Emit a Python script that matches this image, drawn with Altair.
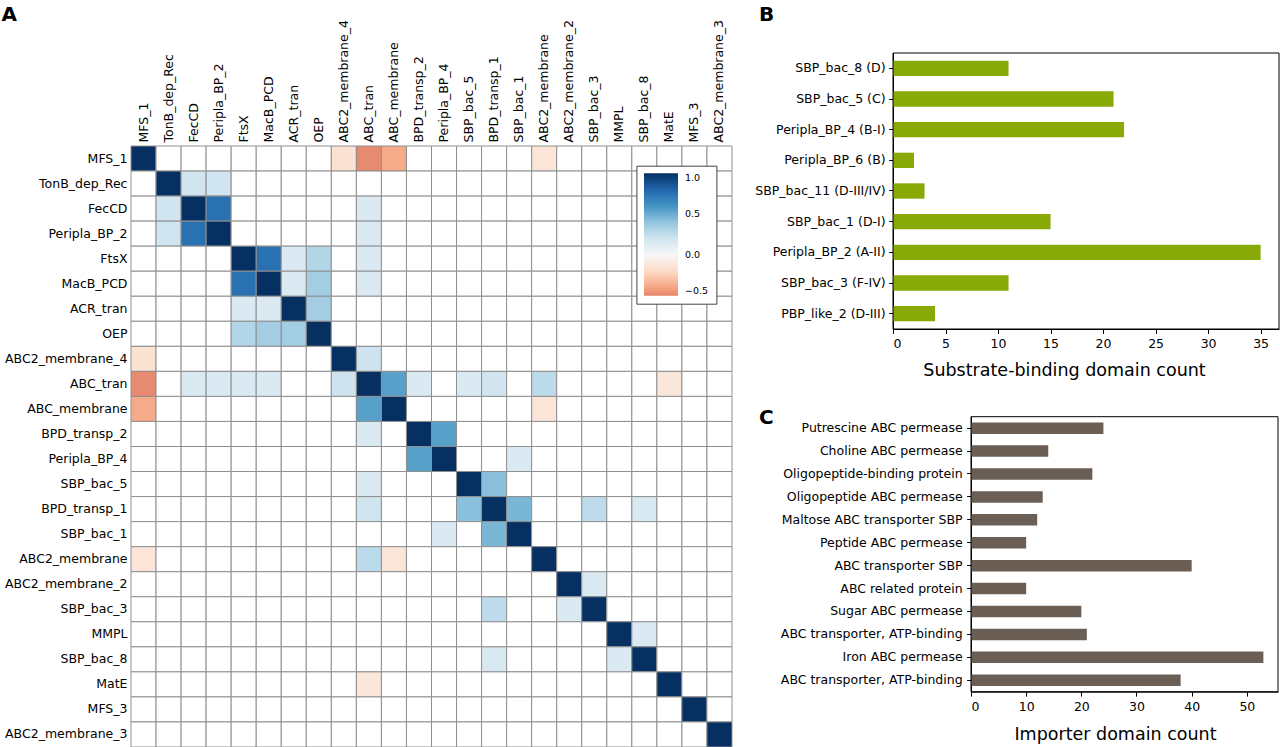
import json
import altair as alt
import pandas as pd

FONT = "DejaVu Sans"

# ---------------- Panel A: domain correlation matrix ----------------
domains = [
    "MFS_1", "TonB_dep_Rec", "FecCD", "Peripla_BP_2", "FtsX", "MacB_PCD",
    "ACR_tran", "OEP", "ABC2_membrane_4", "ABC_tran", "ABC_membrane",
    "BPD_transp_2", "Peripla_BP_4", "SBP_bac_5", "BPD_transp_1", "SBP_bac_1",
    "ABC2_membrane", "ABC2_membrane_2", "SBP_bac_3", "MMPL", "SBP_bac_8",
    "MatE", "MFS_3", "ABC2_membrane_3",
]
# non-zero off-diagonal correlations (upper triangle; matrix is symmetric)
pair_i = [0, 0, 0, 0, 1, 1, 2, 2, 3, 4, 4, 4, 4, 5, 5, 5, 6, 8,
          9, 9, 9, 9, 9, 9, 10, 11, 12, 13, 14, 14, 14, 17, 19]
pair_j = [8, 9, 10, 16, 2, 3, 3, 9, 9, 5, 6, 7, 9, 6, 7, 9, 7, 9,
          10, 11, 13, 14, 16, 21, 16, 12, 15, 14, 15, 18, 20, 18, 20]
pair_r = [-0.15, -0.48, -0.38, -0.13, 0.20, 0.20, 0.75, 0.15, 0.15,
          0.75, 0.15, 0.30, 0.15, 0.15, 0.35, 0.15, 0.35, 0.21,
          0.55, 0.15, 0.15, 0.20, 0.27, -0.12, -0.13, 0.55, 0.15, 0.42,
          0.46, 0.26, 0.16, 0.15, 0.15]

cmap_stops = [-0.5, -0.4, -0.2, 0.0, 0.2, 0.4, 0.6, 0.8, 1.0]
cmap_colors = ["#e5836a", "#f4a582", "#fddbc7", "#f7f7f7", "#d1e5f0",
               "#92c5de", "#4393c3", "#2166ac", "#053061"]

# ---------------- Panel B ----------------
sbd_labels = [
    "SBP_bac_8 (D)", "SBP_bac_5 (C)", "Peripla_BP_4 (B-I)", "Peripla_BP_6 (B)",
    "SBP_bac_11 (D-III/IV)", "SBP_bac_1 (D-I)", "Peripla_BP_2 (A-II)",
    "SBP_bac_3 (F-IV)", "PBP_like_2 (D-III)",
]
sbd_counts = [11, 21, 22, 2, 3, 15, 35, 11, 4]

# ---------------- Panel C ----------------
imp_labels = [
    "Putrescine ABC permease", "Choline ABC permease",
    "Oligopeptide-binding protein", "Oligopeptide ABC permease",
    "Maltose ABC transporter SBP", "Peptide ABC permease",
    "ABC transporter SBP", "ABC related protein", "Sugar ABC permease",
    "ABC transporter, ATP-binding", "Iron ABC permease",
    "ABC transporter, ATP-binding",
]
imp_counts = [24, 14, 22, 13, 12, 10, 40, 10, 20, 21, 53, 38]

# ---------------- build tables ----------------
n = len(domains)
mat = {(i, i): 1.0 for i in range(n)}
for i, j, r in zip(pair_i, pair_j, pair_r):
    mat[(i, j)] = r
    mat[(j, i)] = r
cells = pd.DataFrame([
    {"row": domains[i], "col": domains[j], "r": mat.get((i, j), 0.0)}
    for i in range(n) for j in range(n)
])

b_df = pd.DataFrame({"label": sbd_labels, "count": sbd_counts})
imp_keys = [str(k) for k in range(len(imp_labels))]
c_df = pd.DataFrame({"key": imp_keys, "count": imp_counts})
dummy = alt.Data(values=[{"k": 0}])

# ---------------- heatmap ----------------
heat = alt.Chart(cells).mark_rect(stroke="#8f8f8f", strokeWidth=1).encode(
    x=alt.X("col:N", sort=domains,
            scale=alt.Scale(range=[131, 732], paddingInner=0, paddingOuter=0),
            axis=alt.Axis(orient="top", offset=-146, labelAngle=270, ticks=False,
                          tickSize=0, domain=False, labelPadding=4,
                          labelFontSize=12.5, title=None)),
    y=alt.Y("row:N", sort=domains,
            scale=alt.Scale(range=[146, 747], paddingInner=0, paddingOuter=0),
            axis=alt.Axis(orient="left", offset=-131, ticks=False, tickSize=0,
                          domain=False, labelPadding=4, labelFontSize=12.5,
                          title=None)),
    color=alt.Color(
        "r:Q",
        scale=alt.Scale(domain=cmap_stops, range=cmap_colors, interpolate="rgb"),
        legend=alt.Legend(orient="none", legendX=636.4, legendY=165.7,
                          direction="vertical", gradientLength=122.5,
                          gradientThickness=34, padding=7.6, fillColor="white",
                          strokeColor="#444444", values=[-0.5, 0, 0.5, 1],
                          format=".1f", labelFontSize=9.5, labelOffset=7,
                          labelBaseline="middle", gradientStrokeWidth=0,
                          title=None),
        condition={"test": "datum.r === 0", "value": "white"},
    ),
)

# ---------------- panel B bars ----------------
bars_b = alt.Chart(b_df).mark_bar(color="#89a907").encode(
    x=alt.X("count:Q",
            scale=alt.Scale(domain=[0, 36.75], range=[893, 1279], nice=False, zero=True),
            axis=alt.Axis(orient="bottom", offset=-418, values=[0, 5, 10, 15, 20, 25, 30, 35],
                          format="d", grid=False, tickSize=4.4, labelPadding=4.5,
                          labelFontSize=12.5, title="Substrate-binding domain count",
                          titleFontSize=17.5, titleFontWeight="normal", titleX=1064,
                          titleY=46, titleAlign="center", titleBaseline="alphabetic")),
    y=alt.Y("label:N", sort=sbd_labels,
            scale=alt.Scale(range=[53, 329], paddingInner=0.5, paddingOuter=0.25),
            axis=alt.Axis(orient="left", offset=-893, tickSize=4.4, labelPadding=3.5,
                          labelFontSize=12.5, title=None, grid=False, labelLimit=300)),
)
frame_b = alt.Chart(dummy).mark_rect(fillOpacity=0, stroke="black", strokeWidth=1).encode(
    x=alt.value(893), x2=alt.value(1279), y=alt.value(53), y2=alt.value(329)
)

# ---------------- panel C bars ----------------
bars_c = alt.Chart(c_df).mark_bar(color="#6b5e54").encode(
    x=alt.X("count:Q",
            scale=alt.Scale(domain=[0, 55.65], range=[971, 1278], nice=False, zero=True),
            axis=alt.Axis(orient="bottom", offset=-55.3, values=[0, 10, 20, 30, 40, 50],
                          format="d", grid=False, tickSize=4.4, labelPadding=4.5,
                          labelFontSize=12.5, title="Importer domain count",
                          titleFontSize=17.5, titleFontWeight="normal", titleX=1115,
                          titleY=48, titleAlign="center", titleBaseline="alphabetic")),
    y=alt.Y("key:N", sort=imp_keys,
            scale=alt.Scale(range=[416.7, 691.7], paddingInner=0.5, paddingOuter=0.25),
            axis=alt.Axis(orient="left", offset=-971, tickSize=4.4, labelPadding=4.5,
                          labelFontSize=12.5, title=None, grid=False, labelLimit=300,
                          labelExpr=json.dumps(imp_labels) + "[toNumber(datum.value)]")),
)
frame_c = alt.Chart(dummy).mark_rect(fillOpacity=0, stroke="black", strokeWidth=1).encode(
    x=alt.value(971), x2=alt.value(1278), y=alt.value(416.7), y2=alt.value(691.7)
)


def letter(txt, x, y):
    return alt.Chart(dummy).mark_text(
        text=txt, font=FONT, fontSize=20, fontWeight="bold",
        align="left", baseline="alphabetic", color="black"
    ).encode(x=alt.value(x), y=alt.value(y))


chart = alt.layer(
    heat, bars_b, frame_b, bars_c, frame_c,
    letter("A", 1.5, 20.7), letter("B", 759, 20.7), letter("C", 759, 423.5),
).resolve_scale(
    x="independent", y="independent"
).properties(
    width=1280, height=747, padding=0,
    autosize=alt.AutoSizeParams(type="none"),
).configure_view(
    strokeWidth=0
).configure_axis(
    labelFont=FONT, titleFont=FONT, labelColor="black", titleColor="black",
    domainColor="black", tickColor="black", domainWidth=1, tickWidth=1,
).configure_legend(
    labelFont=FONT, labelColor="black"
)

chart.save("out.html", embed_options={"renderer": "svg", "actions": False})
